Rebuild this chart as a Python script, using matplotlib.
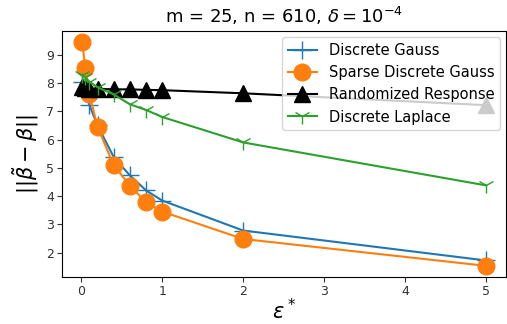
import matplotlib
matplotlib.use("Agg")
import matplotlib.pyplot as plt

eps = [0.01, 0.05, 0.1, 0.2, 0.4, 0.6, 0.8, 1.0, 2.0, 5.0]
discrete_gauss = [8.05, 7.7, 7.22, 6.5, 5.38, 4.73, 4.2, 3.84, 2.78, 1.72]
sparse_gauss = [9.45, 8.53, 7.6, 6.45, 5.09, 4.37, 3.78, 3.45, 2.48, 1.53]
randomized_response = [7.85, 7.82, 7.8, 7.8, 7.78, 7.78, 7.76, 7.75, 7.64, 7.22]
discrete_laplace = [8.3, 8.2, 8.05, 7.85, 7.6, 7.25, 7.05, 6.8, 5.9, 4.38]

fig = plt.figure(figsize=(5.07, 3.24), dpi=100)
ax = fig.add_axes([62/507, 1-277/324, (506-62)/507, (277-31)/324])

ax.plot(eps, discrete_gauss, marker='+', markersize=13, color='tab:blue', label='Discrete Gauss')
ax.plot(eps, sparse_gauss, marker='o', markersize=12, color='tab:orange', label='Sparse Discrete Gauss')
ax.plot(eps, randomized_response, marker='^', markersize=11, color='black', label='Randomized Response')
ax.plot(eps, discrete_laplace, marker='1', markersize=12, color='tab:green', label='Discrete Laplace')

ax.set_title(r'm = 25, n = 610, $\delta = 10^{-4}$', fontsize=13)
ax.set_xlabel(r'$\epsilon^*$', fontsize=15, labelpad=0)
ax.set_ylabel(r'$||\tilde{\beta} - \beta||$', fontsize=15)
ax.tick_params(labelsize=9, colors='#333333', pad=2)
ax.legend(loc='upper right', fontsize=10.5, borderaxespad=0.4)

fig.savefig('out.png', dpi=100)
